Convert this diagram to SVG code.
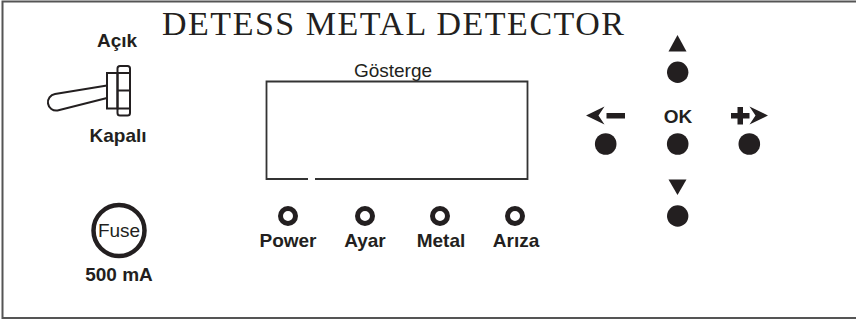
<svg xmlns="http://www.w3.org/2000/svg" width="856" height="321" viewBox="0 0 856 321">
<style>
.lbl{font-family:"Liberation Sans",Arial,sans-serif;font-weight:bold;font-size:19px;fill:#231f20;text-anchor:middle}
.reg{font-family:"Liberation Sans",Arial,sans-serif;font-size:19px;fill:#231f20;text-anchor:middle}
.ln{fill:none;stroke:#231f20;stroke-width:2}
.dot{fill:#231f20}
.led{fill:none;stroke:#231f20;stroke-width:5}
</style>
<rect width="856" height="321" fill="#fff"/>
<path d="M856,1.5 H2.5 V318 H856" fill="none" stroke="#555" stroke-width="2"/>
<text id="title" x="162" y="35" font-family="'Liberation Serif',serif" font-size="34" fill="#231f20" textLength="462" lengthAdjust="spacing">DETESS METAL DETECTOR</text>
<g id="switch">
<text class="lbl" x="117" y="47">Açık</text>
<path class="ln" d="M107,85.5 L55,94 A8.3,8.3 0 0 0 57.5,110.5 L107,98"/>
<rect class="ln" x="107" y="73" width="10.5" height="35.5" fill="#fff"/>
<rect class="ln" x="117.5" y="66" width="12.5" height="49.5" rx="2.5" fill="#fff"/>
<path class="ln" d="M117.5,73 H130 M117.5,90.5 H130 M117.5,108.5 H130"/>
<text class="lbl" x="118" y="142">Kapalı</text>
</g>
<g id="fuse">
<circle cx="119" cy="230.5" r="25.5" fill="none" stroke="#231f20" stroke-width="4.5"/>
<text class="reg" x="119" y="237" font-size="20">Fuse</text>
<text class="lbl" x="119" y="281" font-size="17">500 mA</text>
</g>
<g id="display">
<text class="reg" x="393" y="77" font-size="22">Gösterge</text>
<path d="M308,179 H266.5 V81.5 H527.5 V179 H315" fill="none" stroke="#333" stroke-width="1.8"/>
</g>
<g id="led-power"><circle class="led" cx="288" cy="216" r="7.5"/><text class="lbl" x="288" y="247">Power</text></g>
<g id="led-ayar"><circle class="led" cx="365" cy="216" r="7.5"/><text class="lbl" x="365" y="247">Ayar</text></g>
<g id="led-metal"><circle class="led" cx="440" cy="216" r="7.5"/><text class="lbl" x="441" y="247">Metal</text></g>
<g id="led-ariza"><circle class="led" cx="515" cy="216" r="7.5"/><text class="lbl" x="516" y="247">Arıza</text></g>
<g id="btn-up">
<polygon class="dot" points="668.5,51.5 686.5,51.5 677.5,35"/>
<circle class="dot" cx="677.7" cy="72.3" r="10.7"/>
</g>
<g id="btn-left">
<polygon class="dot" points="586,115.5 604.5,106.5 598.5,115.5 604.5,124.5"/>
<rect class="dot" x="606.5" y="113" width="18.5" height="5.5"/>
<circle class="dot" cx="605.7" cy="144" r="10.8"/>
</g>
<g id="btn-ok">
<text class="lbl" x="678" y="123" font-size="24">OK</text>
<circle class="dot" cx="677.7" cy="144" r="10.8"/>
</g>
<g id="btn-right">
<path class="dot" d="M737.5,107 h5.5 v6 h6.5 v5.5 h-6.5 v6 h-5.5 v-6 h-6.5 v-5.5 h6.5 z"/>
<polygon class="dot" points="768,115.5 749.5,106.5 755.5,115.5 749.5,124.5"/>
<circle class="dot" cx="749.3" cy="144" r="10.8"/>
</g>
<g id="btn-down">
<polygon class="dot" points="668.5,179.5 686.5,179.5 677.5,195"/>
<circle class="dot" cx="677.7" cy="216" r="10.7"/>
</g>
<g id="connectors"></g>
</svg>
